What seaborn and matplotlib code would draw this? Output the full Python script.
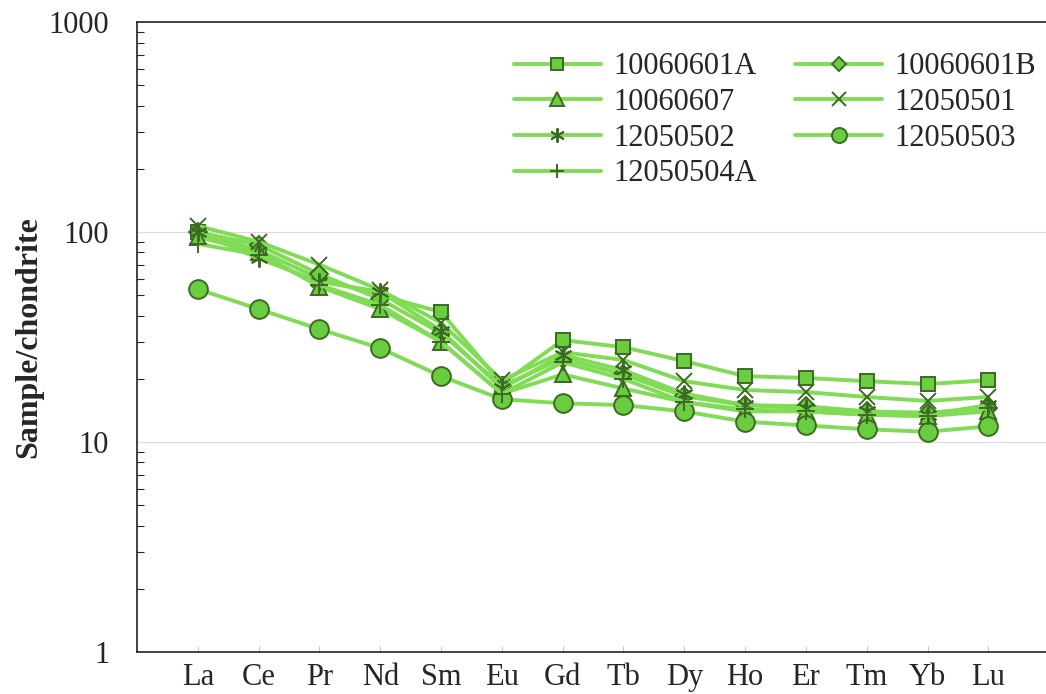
import matplotlib
matplotlib.use("Agg")
import matplotlib.pyplot as plt
import matplotlib.ticker as mticker
import seaborn as sns

# REE elements (x axis)
elements = ["La", "Ce", "Pr", "Nd", "Sm", "Eu", "Gd", "Tb", "Dy", "Ho", "Er", "Tm", "Yb", "Lu"]

# chondrite-normalised values
s_10060601A = [100, 82, 60, 50, 41.6, 18.9, 30.6, 28.3, 24.3, 20.6, 20.2, 19.5, 18.9, 19.7]
s_10060601B = [100, 87, 63, 48, 33, 18.5, 25, 21, 16.5, 15, 14.8, 14, 13.8, 14.5]
s_10060607 = [95, 80, 55, 43, 30, 17, 21, 18, 15.5, 14, 14, 13.5, 13.3, 14]
s_12050501 = [107, 90, 70, 53, 37, 19.7, 26.8, 24.6, 19.5, 17.7, 17.3, 16.4, 15.7, 16.4]
s_12050502 = [100, 75, 58, 52, 34, 18, 26, 22, 17, 15, 14.5, 14, 13.5, 15]
s_12050503 = [53.5, 43, 34.5, 28, 20.6, 16.0, 15.3, 15.0, 14.0, 12.5, 12.0, 11.5, 11.2, 11.9]
s_12050504A = [88, 78, 56, 45, 30, 17, 24, 20, 15.5, 14.3, 14, 13.5, 13.3, 14.5]

samples = ["10060601A", "10060601B", "10060607", "12050501", "12050502", "12050503", "12050504A"]
series = [s_10060601A, s_10060601B, s_10060607, s_12050501, s_12050502, s_12050503, s_12050504A]
markers = ["s", "D", "^", "x", (6, 2, 0), "o", "+"]
msizes = [10.5, 9.5, 12, 12, 13, 13.5, 13]

line_col = "#80db55"
face_col = "#6acd40"
edge_col = "#3b6a22"

sns.set_style("white")
plt.rcParams["font.family"] = ["Liberation Serif", "DejaVu Serif"]

fig = plt.figure(figsize=(10.46, 6.94), dpi=100)
ax = fig.add_axes([0.131, 0.0605, 0.872, 0.9075])

for name, vals, mk, ms in zip(samples, series, markers, msizes):
    sns.lineplot(x=elements, y=vals, ax=ax, sort=False, color=line_col, linewidth=2.8,
                 marker=mk, markersize=ms, markerfacecolor=face_col,
                 markeredgecolor=edge_col, markeredgewidth=1.4, label=name)

ax.set_yscale("log")
ax.set_ylim(1, 1000)
ax.set_xlim(-1, 14)
ax.yaxis.set_major_locator(mticker.FixedLocator([1, 10, 100, 1000]))
ax.yaxis.set_major_formatter(mticker.FuncFormatter(lambda v, p: "%d" % v))
ax.yaxis.set_minor_locator(mticker.LogLocator(base=10, subs=range(2, 10)))
ax.yaxis.set_minor_formatter(mticker.NullFormatter())
ax.tick_params(axis="y", which="major", direction="in", length=8, width=1, labelsize=22, pad=20)
ax.tick_params(axis="y", which="minor", direction="in", length=5, width=0.8, left=True)
ax.tick_params(axis="x", direction="in", length=4, width=0.6, labelsize=22, pad=8, bottom=True, color="#bbbbbb")
for lvl in [10, 100]:
    ax.axhline(lvl, color="#dddddd", linewidth=0.9, zorder=0)
for sp in ax.spines.values():
    sp.set_color("#222222")
    sp.set_linewidth(1.2)

ax.set_xlabel("")
ax.set_ylabel("Sample/chondrite", fontsize=23, fontweight="bold", labelpad=4)

h, l = ax.get_legend_handles_labels()
lookup = dict(zip(l, h))
order = ["10060601A", "10060607", "12050502", "12050504A", "10060601B", "12050501", "12050503"]
ax.legend([lookup[k] for k in order], order, ncol=2, frameon=False, fontsize=22,
          loc="upper left", bbox_to_anchor=(0.383, 0.996), handlelength=2.85, markerscale=0.8,
          columnspacing=1.25, labelspacing=0.22, handletextpad=0.4)

fig.savefig("out.png", dpi=100)
